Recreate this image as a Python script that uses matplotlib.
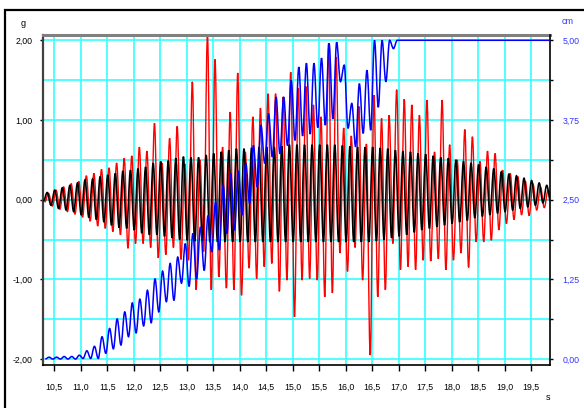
import numpy as np
import matplotlib
matplotlib.use("Agg")
import matplotlib.pyplot as plt
from matplotlib.patches import Rectangle, PathPatch
from matplotlib.path import Path
from matplotlib.ticker import FixedLocator, FuncFormatter

plt.rcParams['font.family'] = ['Liberation Sans', 'DejaVu Sans']

# --- Data ---
# one oscillation cycle per entry; first peak time and period in seconds
t_first_peak = 10.366
period = 0.1429
red_lag = 0.025     # s, red response lags the black input slightly
blue_lag = 0.035    # s

# acceleration input (g), black
black_peak = [0.09, 0.12, 0.15, 0.18, 0.21, 0.25, 0.26, 0.29, 0.31, 0.33, 0.36, 0.37, 0.39, 0.41, 0.46, 0.48, 0.49,
              0.52, 0.54, 0.53, 0.53, 0.56, 0.58, 0.60, 0.62, 0.64, 0.64, 0.65, 0.66, 0.66, 0.66, 0.67, 0.69,
              0.69, 0.69, 0.69, 0.69, 0.69, 0.69, 0.68, 0.67, 0.66, 0.66, 0.66, 0.65, 0.64, 0.62, 0.61, 0.60,
              0.58, 0.57, 0.55, 0.53, 0.52, 0.50, 0.48, 0.46, 0.44, 0.41, 0.39, 0.35, 0.32, 0.30, 0.27, 0.24, 0.21, 0.18]
black_trough = [-0.02,
                -0.07, -0.11, -0.13, -0.15, -0.19, -0.22, -0.25, -0.28, -0.32, -0.35, -0.36, -0.38, -0.42, -0.44, -0.44, -0.46, -0.48,
                -0.50, -0.51, -0.52, -0.52, -0.53, -0.53, -0.53, -0.53, -0.53, -0.53, -0.53, -0.53, -0.53, -0.53, -0.53, -0.53,
                -0.53, -0.53, -0.53, -0.53, -0.53, -0.53, -0.53, -0.53, -0.53, -0.53, -0.52, -0.50, -0.48, -0.46, -0.44, -0.41,
                -0.38, -0.36, -0.34, -0.32, -0.30, -0.28, -0.26, -0.23, -0.21, -0.19, -0.17, -0.15, -0.13, -0.11, -0.09, -0.07, -0.04, -0.02]

# acceleration response (g), red
red_peak = [0.08, 0.12, 0.16, 0.20, 0.23, 0.30, 0.33, 0.38, 0.40, 0.46, 0.52, 0.55, 0.66, 0.61, 0.96, 0.46, 0.77,
            0.92, 0.45, 1.48, 0.50, 2.07, 1.76, 0.66, 1.10, 1.59, 0.60, 1.04, 1.15, 1.33, 1.33, 1.29, 1.60,
            1.40, 1.42, 1.19, 1.04, 1.96, 1.79, 0.90, 0.80, 1.17, 0.70, 1.31, 1.02, 1.06, 1.38, 1.26, 1.19,
            1.06, 1.25, 0.60, 1.25, 0.69, 0.50, 0.88, 0.79, 0.48, 0.61, 0.58, 0.37, 0.33, 0.29, 0.23, 0.20, 0.16, 0.12]
red_trough = [-0.03,
              -0.08, -0.12, -0.15, -0.18, -0.22, -0.27, -0.33, -0.36, -0.40, -0.44, -0.61, -0.55, -0.55, -0.60, -0.73, -0.69, -0.60,
              -0.75, -0.76, -1.13, -0.65, -1.13, -0.97, -1.11, -1.13, -1.20, -0.86, -0.99, -0.84, -0.80, -1.15, -1.01, -1.47,
              -1.01, -0.99, -1.01, -1.22, -1.17, -0.67, -0.90, -0.60, -1.01, -1.95, -1.22, -1.13, -0.55, -0.88, -0.84, -0.88,
              -0.76, -0.77, -0.74, -0.88, -0.76, -0.67, -0.85, -0.53, -0.53, -0.51, -0.38, -0.30, -0.25, -0.19, -0.20, -0.13, -0.10, 0.00]

# displacement (cm), blue, right axis
blue_peak = [0.03, 0.03, 0.04, 0.04,
             0.06, 0.13, 0.20, 0.35, 0.48, 0.63, 0.74, 0.88, 0.94, 1.08, 1.26, 1.38, 1.50,
             1.60, 1.81, 1.97, 2.07, 2.25, 2.47, 2.73, 2.91, 2.95, 3.07, 3.35, 3.67, 3.85, 4.11, 4.11, 4.37,
             4.58, 4.64, 4.64, 4.72, 4.95, 4.97, 4.61, 4.01, 4.32, 4.53, 5.00, 5.00, 5.00, 5.00, 5.00, 5.00,
             5.00, 5.00, 5.00, 5.00, 5.00, 5.00, 5.00, 5.00, 5.00, 5.00, 5.00, 5.00, 5.00, 5.00, 5.00, 5.00, 5.00, 5.00]
blue_trough = [0.00,
               0.00, 0.00, 0.00, 0.00,
               0.01, 0.01, 0.01, 0.09, 0.16, 0.22, 0.35, 0.41, 0.52, 0.57, 0.74, 0.90, 0.92,
               1.19, 1.14, 1.26, 1.39, 1.68, 1.71, 1.97, 2.02, 2.26, 2.44, 2.70, 3.07, 3.17, 3.22, 3.35, 3.43,
               3.50, 3.53, 3.63, 3.67, 3.77, 4.35, 3.62, 3.33, 3.54, 3.59, 3.95, 4.35, 4.87, 5.00, 5.00, 5.00,
               5.00, 5.00, 5.00, 5.00, 5.00, 5.00, 5.00, 5.00, 5.00, 5.00, 5.00, 5.00, 5.00, 5.00, 5.00, 5.00, 5.00, 5.00]

x_ticks = [10.5, 11.0, 11.5, 12.0, 12.5, 13.0, 13.5, 14.0, 14.5, 15.0, 15.5, 16.0, 16.5, 17.0, 17.5, 18.0, 18.5, 19.0, 19.5]
g_ticks = [-2.0, -1.0, 0.0, 1.0, 2.0]
cm_ticks = [0.0, 1.25, 2.5, 3.75, 5.0]


def extremes(peaks, troughs, lag):
    """Alternate trough/peak values along the cycle times."""
    n = len(peaks)
    t, v = [], []
    for k in range(n):
        t.append(t_first_peak + (k - 0.5) * period + lag)
        v.append(troughs[k])
        t.append(t_first_peak + k * period + lag)
        v.append(peaks[k])
    t.append(t_first_peak + (n - 0.5) * period + lag)
    v.append(troughs[n])
    return t, v


def wave(ax, peaks, troughs, lag, **kw):
    # cubic bezier segments with flat tangents at every peak / trough
    t, v = extremes(peaks, troughs, lag)
    verts = [(t[0], v[0])]
    codes = [Path.MOVETO]
    for i in range(1, len(t)):
        dt = t[i] - t[i - 1]
        verts += [(t[i - 1] + 0.364 * dt, v[i - 1]), (t[i] - 0.364 * dt, v[i]), (t[i], v[i])]
        codes += [Path.CURVE4] * 3
    ax.add_patch(PathPatch(Path(verts, codes), fill=False, **kw))


def comma(fmt):
    return FuncFormatter(lambda v, pos: (fmt % v).replace('.', ','))


fig = plt.figure(figsize=(5.84, 4.08), dpi=100)
W, H = 584, 408
ax = fig.add_axes([43 / W, 1 - 365 / H, (550 - 43) / W, (365 - 35) / H])
ax2 = ax.twinx()

# outer frame
fig.patches.append(Rectangle((5 / W, -0.2), 1.5, 1.2 - 10 / H, transform=fig.transFigure,
                             fill=False, edgecolor='black', linewidth=1.6))

ax.set_xlim(10.287, 19.859)
ax.set_ylim(-2.074, 2.066)
ax2.set_ylim(-0.093, 5.083)

# grid
for xv in x_ticks:
    ax.axvline(xv, color='#33ffff', lw=1.2, zorder=0)
for yv in np.arange(-2.0, 2.01, 0.5):
    ax.axhline(yv, color='#33ffff' if yv != 0 else '#30c8c8', lw=1.2, zorder=0)

wave(ax, red_peak, red_trough, red_lag, edgecolor='#ff0000', lw=1.0, zorder=2)
wave(ax, black_peak, black_trough, 0.0, edgecolor='black', lw=1.15, zorder=3)
wave(ax2, blue_peak, blue_trough, blue_lag, edgecolor='#0000ff', lw=1.1, zorder=4)

# ticks and labels
ax.xaxis.set_major_locator(FixedLocator(x_ticks))
ax.xaxis.set_major_formatter(comma('%.1f'))
ax.yaxis.set_major_locator(FixedLocator(g_ticks))
ax.yaxis.set_major_formatter(comma('%.2f'))
ax2.yaxis.set_major_locator(FixedLocator(cm_ticks))
ax2.yaxis.set_minor_locator(FixedLocator([0.625, 1.875, 3.125, 4.375]))
ax2.yaxis.set_major_formatter(comma('%.2f'))

ax.tick_params(axis='x', direction='out', length=4, width=1.0, pad=9, labelsize=6.3, color='black')
ax.tick_params(axis='y', direction='out', length=2.5, width=1.0, pad=5, labelsize=6.3, color='black')
ax2.tick_params(axis='y', which='both', direction='out', length=2.5, width=1.0, pad=6.5,
                labelsize=6.3, color='black', labelcolor='#3333ff')

for name, sp in ax.spines.items():
    sp.set_visible(name in ('left', 'bottom', 'top'))
ax.spines['left'].set_color('#404040')
ax.spines['left'].set_linewidth(1.6)
ax.spines['bottom'].set_color('black')
ax.spines['bottom'].set_linewidth(1.2)
ax.spines['top'].set_color('#808080')
ax.spines['top'].set_linewidth(2.2)
for name, sp in ax2.spines.items():
    sp.set_visible(name == 'right')
ax2.spines['right'].set_color('black')
ax2.spines['right'].set_linewidth(1.2)

# unit labels
fig.text(23 / W, 1 - 23 / H, 'g', fontsize=6.5, ha='center', va='center')
fig.text(568 / W, 1 - 22 / H, 'cm', fontsize=6.5, ha='center', va='center', color='#3333ff')
fig.text(548 / W, 1 - 398 / H, 's', fontsize=6.5, ha='center', va='center')

fig.savefig('out.png', dpi=100)
